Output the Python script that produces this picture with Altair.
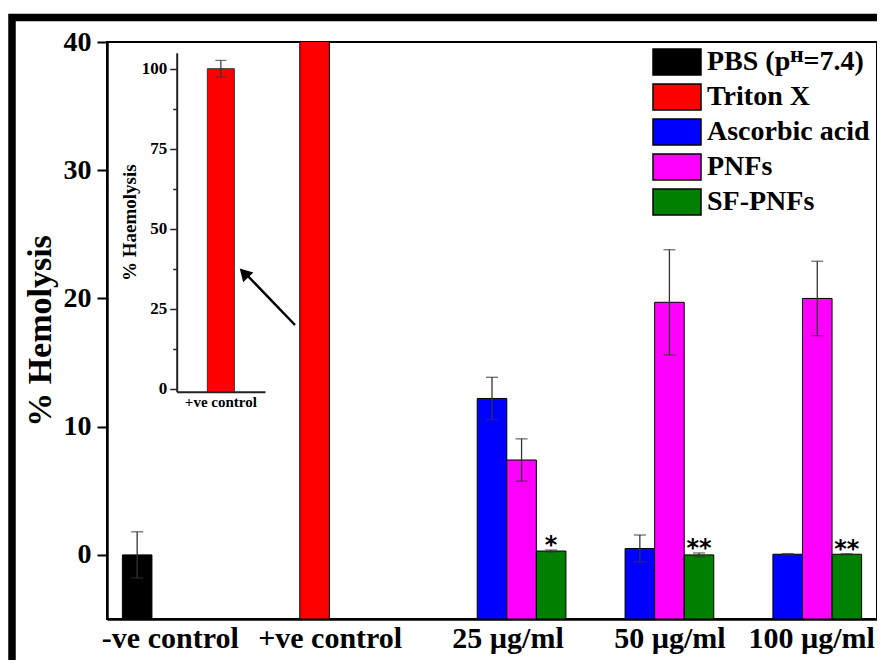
import altair as alt
import pandas as pd

# ---------------- data ----------------
groups = ["-ve control", "+ve control", "25 µg/ml", "50 µg/ml", "100 µg/ml"]
series = ["PBS (pᴴ=7.4)", "Triton X", "Ascorbic acid", "PNFs", "SF-PNFs"]
colors = ["#000000", "#ff0000", "#0000ff", "#ff00ff", "#008000"]

pbs_value = [0.0]
pbs_err = [1.8]
triton_value = [100.0]
triton_err = [2.6]

conc_groups = ["25 µg/ml", "50 µg/ml", "100 µg/ml"]
ascorbic_value = [12.2, 0.5, 0.05]
ascorbic_err = [1.65, 1.05, 0.05]
pnfs_value = [7.4, 19.7, 20.0]
pnfs_err = [1.65, 4.1, 2.9]
sfpnfs_value = [0.3, 0.0, 0.05]
sfpnfs_err = [0.08, 0.15, 0.04]
sfpnfs_sig = ["*", "**", "**"]

y_ticks = [0, 10, 20, 30, 40]
inset_ticks = [0, 12.5, 25, 37.5, 50, 62.5, 75, 87.5, 100]

# ---------------- tables ----------------
rows = [
    {"group": groups[0], "series": series[0], "value": pbs_value[0], "err": pbs_err[0], "sig": ""},
    {"group": groups[1], "series": series[1], "value": triton_value[0], "err": triton_err[0], "sig": ""},
]
for i, g in enumerate(conc_groups):
    rows.append({"group": g, "series": series[2], "value": ascorbic_value[i], "err": ascorbic_err[i], "sig": ""})
    rows.append({"group": g, "series": series[3], "value": pnfs_value[i], "err": pnfs_err[i], "sig": ""})
    rows.append({"group": g, "series": series[4], "value": sfpnfs_value[i], "err": sfpnfs_err[i], "sig": sfpnfs_sig[i]})
main_df = pd.DataFrame(rows)
main_df["lo"] = main_df["value"] - main_df["err"]
main_df["hi"] = main_df["value"] + main_df["err"]

inset_df = pd.DataFrame({"cat": [groups[1]], "value": triton_value, "err": triton_err})
inset_df["lo"] = inset_df["value"] - inset_df["err"]
inset_df["hi"] = inset_df["value"] + inset_df["err"]

SERIF = "Liberation Serif"
W, H = 770, 577

# ---------------- main chart ----------------
label_shift = {"-ve control": -26, "+ve control": -14, "25 µg/ml": 16, "50 µg/ml": 30, "100 µg/ml": 24}
shift_cond = {
    "condition": [{"test": f"datum.value === '{k}'", "value": v} for k, v in label_shift.items()],
    "value": 0,
}

xscale = alt.Scale(domain=groups, paddingInner=0, paddingOuter=0.104)
xoff = alt.XOffset("series:N", scale=alt.Scale(domain=series, paddingInner=0, paddingOuter=0))
yscale = alt.Scale(domain=[-5, 40], nice=False, zero=False)

xaxis = alt.Axis(orient="bottom", ticks=False, labelAngle=0, labelFont=SERIF, labelFontSize=30,
                 labelFontWeight="bold", labelColor="black", labelPadding=4, domainWidth=2.5,
                 domainColor="black", labelOffset=shift_cond, labelLimit=0, title=None)
yaxis = alt.Axis(values=y_ticks, tickSize=10, tickWidth=2, tickColor="black", labelFont=SERIF,
                 labelFontSize=28, labelFontWeight="bold", labelColor="black", labelPadding=6,
                 titleFont=SERIF, titleFontSize=34, titleFontWeight="bold", titleColor="black",
                 titlePadding=6, grid=False, domainWidth=2.5, domainColor="black")

legend = alt.Legend(title=None, orient="none", legendX=554, legendY=4,
                    symbolType="M-1.6,-0.87H1.6V0.87H-1.6Z", symbolSize=900,
                    symbolStrokeColor="black", symbolStrokeWidth=1.5, symbolOpacity=1,
                    labelFont=SERIF, labelFontSize=28, labelFontWeight="bold", labelColor="black",
                    labelOffset=14, rowPadding=1, padding=0, labelLimit=0)

X = alt.X("group:N", scale=xscale, axis=xaxis, title=None)

bars = alt.Chart().mark_bar(stroke="black", strokeWidth=1, clip=True, opacity=1).encode(
    x=X,
    xOffset=xoff,
    y=alt.Y("value:Q", scale=yscale, axis=yaxis, title="% Hemolysis"),
    y2=alt.datum(-5),
    color=alt.Color("series:N", scale=alt.Scale(domain=series, range=colors), legend=legend),
)
err_rule = alt.Chart().mark_rule(color="#333333", strokeWidth=1.3, clip=True).encode(
    x=X, xOffset=xoff, y=alt.Y("lo:Q", title="% Hemolysis"), y2="hi:Q"
)
cap_lo = alt.Chart().mark_tick(color="#333333", thickness=1.3, size=12, clip=True).encode(
    x=X, xOffset=xoff, y=alt.Y("lo:Q", title="% Hemolysis")
)
cap_hi = alt.Chart().mark_tick(color="#333333", thickness=1.3, size=12, clip=True).encode(
    x=X, xOffset=xoff, y=alt.Y("hi:Q", title="% Hemolysis")
)
stars = alt.Chart().transform_filter("datum.sig != ''").mark_text(
    font="DejaVu Sans", fontSize=24, fontWeight="bold", baseline="alphabetic", dy=3, color="black"
).encode(x=X, xOffset=xoff, y=alt.Y("hi:Q", title="% Hemolysis"), text="sig:N")

main = alt.layer(bars, err_rule, cap_lo, cap_hi, stars, data=main_df)

# ---------------- inset ----------------
ix_scale = alt.Scale(domain=[groups[1]], range=[69.7, 158])
iy_scale = alt.Scale(domain=[-1, 105], range=[349.7, 10.7], nice=False, zero=False)
ix_axis = alt.Axis(orient="bottom", offset=-227.3, ticks=False, labelAngle=0, labelFont=SERIF,
                   labelFontSize=15, labelFontWeight="bold", labelColor="black", labelPadding=3,
                   domainWidth=2, domainColor="#222222", title=None)
iy_axis = alt.Axis(orient="left", offset=-69.7, values=inset_ticks,
                   labelExpr="datum.value % 25 == 0 ? datum.label : ''",
                   tickSize={"condition": {"test": "datum.value % 25 != 0", "value": 4}, "value": 7},
                   tickWidth=1.5, tickColor="#222222", labelFont=SERIF, labelFontSize=17,
                   labelFontWeight="bold", labelColor="black", labelPadding=3,
                   titleFont=SERIF, titleFontSize=19, titleFontWeight="bold", titleColor="black",
                   titlePadding=2, grid=False, domainWidth=2, domainColor="#222222")
IX = alt.X("cat:N", scale=ix_scale, axis=ix_axis, title=None)

inset_bar = alt.Chart().mark_bar(color=colors[1], stroke="#333333", strokeWidth=1, size=27).encode(
    x=IX, y=alt.Y("value:Q", scale=iy_scale, axis=iy_axis, title="% Haemolysis"), y2=alt.datum(-1)
)
inset_rule = alt.Chart().mark_rule(color="#333333", strokeWidth=1.2).encode(
    x=IX, y=alt.Y("lo:Q", title="% Haemolysis"), y2="hi:Q"
)
inset_lo = alt.Chart().mark_tick(color="#333333", thickness=1.2, size=11).encode(
    x=IX, y=alt.Y("lo:Q", title="% Haemolysis")
)
inset_hi = alt.Chart().mark_tick(color="#333333", thickness=1.2, size=11).encode(
    x=IX, y=alt.Y("hi:Q", title="% Haemolysis")
)
inset = alt.layer(inset_bar, inset_rule, inset_lo, inset_hi, data=inset_df)

# ---------------- decoration ----------------
one = alt.Data(values=[{"k": 1}])
frame = alt.Chart(one).mark_rect(fillOpacity=0, stroke="black", strokeWidth=7.5).encode(
    x=alt.value(-95), x2=alt.value(W + 60), y=alt.value(-24.5), y2=alt.value(H + 120)
)
arrow_line = alt.Chart(one).mark_rule(color="black", strokeWidth=2.5).encode(
    x=alt.value(188), y=alt.value(283), x2=alt.value(138), y2=alt.value(231)
)
arrow_head = alt.Chart(one).mark_point(shape="triangle-up", filled=True, size=200, angle=316,
                                       color="black", opacity=1).encode(
    x=alt.value(137), y=alt.value(231)
)
deco = alt.layer(frame, arrow_line, arrow_head)

chart = alt.layer(main, inset, deco).resolve_scale(
    x="independent", y="independent"
).properties(
    width=W, height=H,
    padding={"left": 99, "top": 34, "right": 0, "bottom": 41},
    autosize=alt.AutoSizeParams(type="none"),
    background="white",
).configure_view(stroke="black", strokeWidth=2)

chart.save("out.html", embed_options={"renderer": "svg", "actions": False})
